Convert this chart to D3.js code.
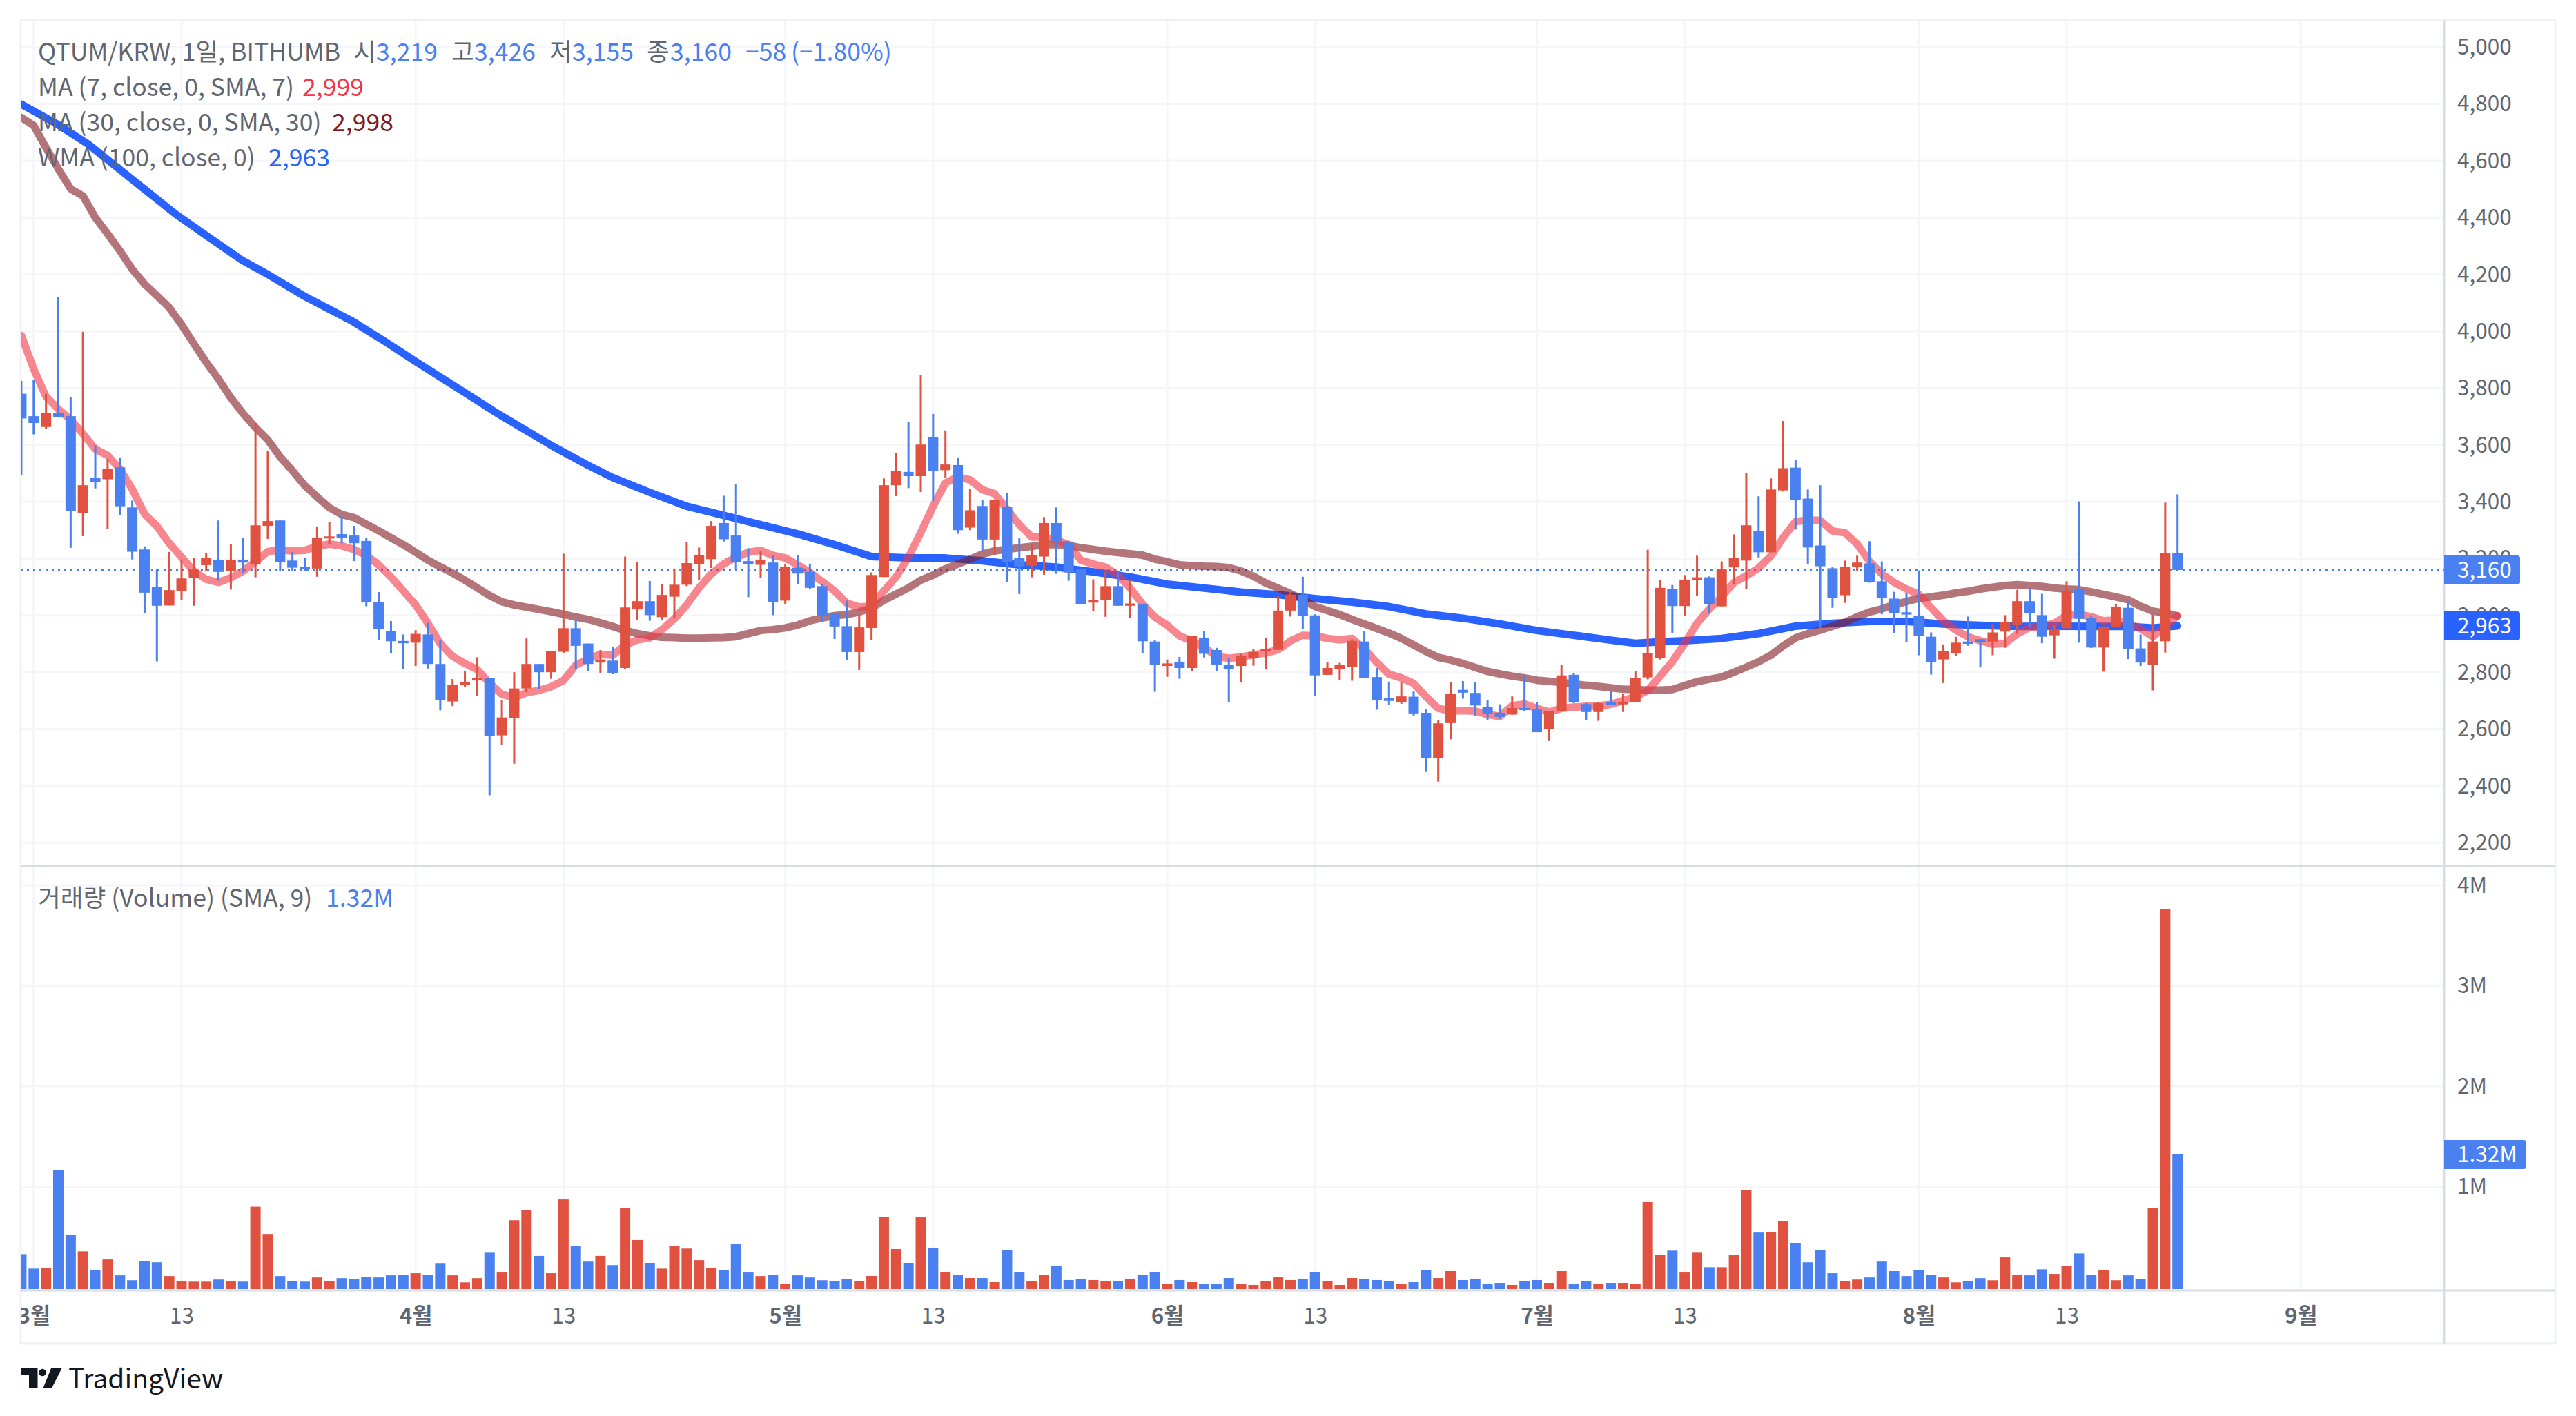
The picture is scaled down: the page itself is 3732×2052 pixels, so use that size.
<!DOCTYPE html>
<html>
<head>
<meta charset="utf-8">
<script src="https://cdn.jsdelivr.net/npm/d3@7/dist/d3.min.js"></script>
<style>
html, body { margin: 0; padding: 0; background: #fff; }
svg { display: block; }
text { font-family: "Noto Sans CJK KR", "Noto Sans", sans-serif; }
</style>
</head>
<body>
<script>
// first bar is one day before 3월 1일, so day number = firstDay + position in the arrays
var firstDay = -1;

var opens = [3780,3701,3663,3713,3701,3359,3485,3479,3521,3380,3232,3099,3035,3087,3131,3177,3195,3155,3195,3179,3315,3334,3193,3172,3165,3271,3286,3281,3262,3047,2945,2910,2904,2933,2829,2697,2756,2771,2780,2578,2639,2743,2829,2800,2872,2955,2901,2834,2841,2815,3021,3050,2994,3066,3108,3181,3198,3325,3281,3191,3178,3186,3052,3168,3153,3103,3007,2962,2871,2956,3135,3458,3505,3490,3628,3511,3529,3309,3385,3267,3383,3201,3175,3207,3325,3256,3162,3045,3055,3103,3034,3041,2908,2822,2837,2815,2922,2878,2826,2822,2849,2873,2879,3017,3073,3000,2791,2810,2818,2908,2783,2708,2696,2714,2657,2498,2621,2738,2727,2679,2657,2651,2674,2669,2601,2663,2791,2688,2660,2696,2687,2695,2782,2851,3092,3033,3125,3134,3032,3169,3193,3297,3222,3440,3520,3411,3246,3166,3071,3170,3183,3120,3059,3011,2999,2925,2845,2868,2908,2916,2908,2943,2967,3050,3001,2930,2955,3094,2991,2887,2958,3027,2884,2827,2909,3219];
var highs = [3825,3830,3780,4120,3767,3998,3599,3550,3556,3404,3243,3162,3223,3193,3201,3219,3334,3252,3274,3677,3578,3334,3223,3201,3313,3329,3349,3315,3272,3082,2980,2933,2948,2974,2913,2776,2804,2853,2780,2702,2800,2919,2829,2874,3217,2983,2901,2878,2890,3207,3188,3121,3111,3165,3258,3239,3332,3421,3463,3237,3225,3211,3182,3211,3182,3110,3007,3052,2999,3151,3482,3572,3680,3845,3709,3651,3556,3446,3405,3407,3431,3271,3251,3346,3380,3260,3162,3127,3154,3156,3125,3041,2914,2845,2854,2927,2944,2886,2851,2865,2883,2922,3068,3083,3136,3004,2837,2833,2916,2946,2815,2767,2767,2732,2669,2631,2764,2769,2764,2703,2687,2715,2791,2696,2662,2825,2798,2691,2696,2733,2723,2803,3231,3124,3107,3142,3210,3137,3190,3285,3502,3419,3482,3684,3547,3443,3458,3170,3193,3210,3261,3190,3083,3079,3158,2940,2898,2925,2996,2916,2969,3001,3090,3095,3076,2967,3120,3401,2997,2961,3041,3051,2933,3002,3397,3426];
var lows = [3493,3637,3656,3699,3238,3279,3447,3303,3352,3197,3007,2838,3035,3053,3034,3156,3122,3091,3148,3134,3269,3155,3156,3156,3136,3252,3254,3191,3032,2912,2866,2810,2822,2813,2666,2681,2747,2718,2367,2543,2478,2730,2742,2777,2866,2812,2804,2796,2793,2812,2985,2981,2985,2990,3103,3125,3167,3260,3162,3064,3133,3001,3040,3111,3093,2977,2917,2844,2808,2914,3135,3420,3448,3434,3403,3485,3287,3300,3225,3213,3118,3075,3134,3143,3146,3122,3039,3014,2995,3034,2992,2867,2731,2784,2777,2803,2852,2803,2696,2765,2823,2810,2879,2996,2952,2716,2791,2772,2770,2781,2668,2686,2689,2648,2449,2415,2564,2707,2647,2632,2636,2651,2664,2589,2558,2663,2691,2633,2629,2684,2660,2695,2775,2845,2938,2998,3068,3006,3032,3110,3094,3204,3222,3436,3302,3182,2956,3027,3044,3157,3115,3004,2938,2905,2860,2792,2762,2858,2893,2817,2860,2886,2935,2956,2902,2848,2955,2904,2885,2802,2958,2846,2822,2736,2869,3155];
var closes = [3693,3677,3713,3699,3367,3458,3469,3515,3384,3224,3080,3034,3089,3130,3161,3201,3153,3195,3186,3317,3332,3189,3168,3165,3274,3278,3274,3254,3048,2951,2909,2902,2935,2829,2701,2756,2766,2780,2576,2641,2743,2829,2800,2874,2955,2893,2829,2845,2797,3028,3050,3001,3072,3108,3184,3211,3315,3268,3188,3181,3194,3047,3172,3147,3097,2999,2961,2871,2958,3142,3458,3509,3490,3601,3509,3531,3300,3370,3267,3407,3188,3173,3211,3325,3257,3151,3039,3054,3103,3034,3042,2909,2826,2831,2815,2927,2865,2826,2810,2857,2871,2881,3017,3073,2997,2789,2815,2825,2910,2781,2701,2699,2715,2655,2498,2620,2723,2728,2683,2655,2643,2674,2667,2589,2662,2789,2696,2660,2691,2685,2696,2781,2866,3097,3033,3126,3134,3040,3162,3202,3317,3222,3443,3518,3407,3239,3173,3062,3171,3186,3118,3062,3009,3003,2928,2836,2874,2904,2900,2905,2940,2976,3050,3008,2925,2953,3087,2988,2887,2961,3030,2882,2834,2908,3219,3160];
var volumes = [0.327,0.183,0.19,1.168,0.52,0.355,0.169,0.274,0.116,0.067,0.26,0.246,0.109,0.06,0.053,0.053,0.074,0.06,0.053,0.8,0.528,0.109,0.06,0.053,0.095,0.06,0.088,0.081,0.102,0.095,0.116,0.123,0.137,0.123,0.232,0.116,0.046,0.088,0.341,0.144,0.665,0.763,0.31,0.137,0.872,0.412,0.253,0.31,0.218,0.788,0.468,0.239,0.183,0.412,0.383,0.267,0.19,0.165,0.426,0.144,0.109,0.123,0.032,0.116,0.095,0.067,0.055,0.076,0.062,0.11,0.7,0.378,0.24,0.7,0.392,0.151,0.117,0.089,0.089,0.048,0.371,0.151,0.055,0.117,0.213,0.069,0.076,0.069,0.062,0.062,0.076,0.117,0.151,0.034,0.069,0.048,0.034,0.034,0.089,0.028,0.021,0.062,0.096,0.069,0.076,0.151,0.055,0.021,0.089,0.076,0.069,0.055,0.034,0.048,0.165,0.089,0.158,0.069,0.076,0.034,0.041,0.021,0.055,0.069,0.041,0.158,0.034,0.055,0.034,0.041,0.041,0.028,0.846,0.32,0.362,0.144,0.341,0.197,0.197,0.317,0.967,0.542,0.549,0.658,0.433,0.246,0.369,0.137,0.06,0.074,0.095,0.253,0.158,0.109,0.165,0.123,0.095,0.046,0.06,0.088,0.067,0.295,0.123,0.116,0.176,0.13,0.211,0.334,0.123,0.165,0.067,0.116,0.081,0.788,3.76,1.32];

// moving averages, one value per bar
var ma7 = [3985,3867,3770,3726,3688,3639,3585,3563,3515,3444,3357,3314,3254,3205,3156,3127,3116,3133,3156,3189,3225,3230,3227,3229,3243,3251,3245,3232,3211,3178,3135,3086,3037,2972,2901,2856,2831,2809,2762,2722,2711,2728,2736,2749,2771,2825,2847,2863,2860,2896,2914,2921,2950,2988,3037,3097,3146,3181,3205,3222,3229,3211,3202,3178,3151,3119,3086,3043,3030,3032,3086,3135,3205,3292,3384,3466,3487,3477,3442,3428,3373,3319,3276,3276,3265,3249,3194,3181,3170,3142,3096,3040,2994,2966,2928,2910,2887,2856,2849,2854,2861,2868,2879,2910,2930,2928,2919,2914,2919,2882,2835,2793,2780,2761,2714,2673,2663,2665,2663,2651,2645,2682,2688,2673,2660,2673,2677,2680,2682,2687,2700,2714,2735,2786,2837,2902,2972,3023,3065,3116,3139,3167,3209,3274,3330,3336,3334,3297,3291,3251,3190,3146,3116,3093,3074,3027,2981,2948,2925,2911,2899,2902,2935,2958,2962,2972,3000,3004,2995,2981,2984,2972,2953,2925,2962,2999];
var ma30 = [4752,4724,4646,4571,4501,4476,4400,4343,4283,4218,4166,4125,4083,4023,3956,3891,3832,3766,3710,3661,3618,3558,3509,3457,3417,3379,3355,3344,3321,3298,3273,3249,3222,3194,3171,3149,3124,3097,3070,3048,3037,3029,3021,3013,3004,2994,2986,2974,2961,2947,2936,2928,2923,2922,2920,2920,2921,2922,2925,2936,2947,2950,2956,2966,2981,2991,2999,3003,3012,3026,3053,3075,3097,3124,3142,3164,3181,3198,3216,3227,3232,3238,3243,3249,3249,3247,3238,3232,3226,3221,3217,3212,3198,3189,3178,3175,3173,3172,3168,3156,3138,3114,3096,3077,3056,3031,3017,3003,2986,2970,2954,2938,2919,2896,2873,2852,2843,2831,2817,2803,2794,2786,2780,2772,2768,2764,2759,2754,2750,2745,2740,2739,2737,2737,2739,2753,2767,2775,2783,2800,2818,2837,2860,2893,2921,2936,2948,2962,2976,2995,3012,3023,3037,3049,3060,3065,3071,3079,3085,3093,3099,3105,3108,3105,3102,3096,3093,3091,3083,3074,3065,3055,3032,3015,3009,2998];
// WMA is a smooth curve, so it is read every few bars: bar number, value
var wmaBars = [-1,1.9,4.4,8,11.5,14.1,16.9,19,21.9,25.8,28.4,31.2,35.1,37.7,42.1,45,47,50,53,56,59,62,65,68,71,74,77,80,83,86,89,92,95,98,101,104,107,110,113,116,119,122,125,128,130,132,134,137,140,143,146,149,152,155,158,161,164,167,170,172,174];
var wmaValues = [4799,4729,4659,4534,4413,4334,4250,4200,4125,4037,3967,3888,3781,3709,3596,3528,3485,3433,3384,3352,3319,3287,3249,3207,3202,3202,3192,3178,3170,3153,3135,3110,3096,3082,3073,3059,3047,3031,3005,2990,2970,2947,2930,2913,2902,2907,2911,2919,2936,2962,2972,2979,2979,2970,2965,2961,2962,2961,2961,2956,2963];

var priceTicks = [2200,2400,2600,2800,3000,3200,3400,3600,3800,4000,4200,4400,4600,4800,5000];
var volumeTicks = [1,2,3,4];
var dayTicks = [0,12,31,43,61,73,92,104,122,134,153,165,184];
var dayLabels = ['3월','13','4월','13','5월','13','6월','13','7월','13','8월','13','9월'];

var width = 3732, height = 2052;
var plotLeft = 30, axisX = 3541, rightEdge = 3702;
var plotTop = 29.5, paneLine = 1255, volBase = 1870, plotBottom = 1947;

var red = '#e05140', blue = '#4a80ef', wmaBlue = '#2962ff', grey = '#5f6670', gridColor = '#f5f6f9', axisColor = '#d9dde3';

var x = d3.scaleLinear().domain([0, 184]).range([48.8, 48.8 + 184 * 17.85]);
var y = d3.scaleLinear().domain([2118, 5094]).range([paneLine, plotTop]);
var yVol = d3.scaleLinear().domain([0, 4]).range([1865, 1283]);

var svg = d3.select('body').append('svg').attr('width', width).attr('height', height);
svg.append('rect').attr('width', width).attr('height', height).attr('fill', '#fff');

var defs = svg.append('defs');
defs.append('clipPath').attr('id', 'plot').append('rect')
    .attr('x', plotLeft).attr('y', plotTop).attr('width', axisX - plotLeft).attr('height', volBase - plotTop);
defs.append('clipPath').attr('id', 'timeAxis').append('rect')
    .attr('x', plotLeft).attr('y', volBase).attr('width', axisX - plotLeft).attr('height', plotBottom - volBase);

// grid
var grid = svg.append('g').attr('stroke', gridColor).attr('stroke-width', 3);
grid.selectAll('.gx').data(dayTicks).enter().append('line')
    .attr('x1', function(d) { return x(d); }).attr('x2', function(d) { return x(d); })
    .attr('y1', plotTop).attr('y2', volBase);
grid.selectAll('.gy').data(priceTicks).enter().append('line')
    .attr('x1', plotLeft).attr('x2', axisX)
    .attr('y1', function(d) { return y(d); }).attr('y2', function(d) { return y(d); });
grid.selectAll('.gv').data(volumeTicks).enter().append('line')
    .attr('x1', plotLeft).attr('x2', axisX)
    .attr('y1', function(d) { return yVol(d); }).attr('y2', function(d) { return yVol(d); });

// frame
var frame = svg.append('g');
frame.append('path').attr('fill', 'none').attr('stroke', '#f0f1f5').attr('stroke-width', 3)
    .attr('d', 'M' + plotLeft + ',' + plotBottom + 'V' + plotTop + 'H' + rightEdge + 'V' + plotBottom + 'H' + plotLeft);
frame.append('line').attr('x1', plotLeft).attr('x2', rightEdge).attr('y1', paneLine).attr('y2', paneLine)
    .attr('stroke', axisColor).attr('stroke-width', 3);
frame.append('line').attr('x1', plotLeft).attr('x2', rightEdge).attr('y1', volBase).attr('y2', volBase)
    .attr('stroke', axisColor).attr('stroke-width', 3);
frame.append('line').attr('x1', axisX).attr('x2', axisX).attr('y1', plotTop).attr('y2', plotBottom)
    .attr('stroke', axisColor).attr('stroke-width', 3);

var plot = svg.append('g').attr('clip-path', 'url(#plot)');

// last price line
plot.append('line').attr('x1', plotLeft).attr('x2', axisX)
    .attr('y1', y(3160)).attr('y2', y(3160))
    .attr('stroke', blue).attr('stroke-width', 3).attr('stroke-dasharray', '3 6');

// moving averages
function drawLine(bars, values, color, opacity) {
    var line = d3.line()
        .x(function(d, i) { return x(bars[i]); })
        .y(function(d) { return y(d); });
    plot.append('path')
        .attr('d', line(values))
        .attr('fill', 'none')
        .attr('stroke', color)
        .attr('stroke-opacity', opacity)
        .attr('stroke-width', 11)
        .attr('stroke-linejoin', 'round')
        .attr('stroke-linecap', 'round');
}
var allBars = closes.map(function(d, i) { return i + firstDay; });
drawLine(wmaBars, wmaValues, wmaBlue, 1);
drawLine(allBars, ma30, '#801922', 0.6);
drawLine(allBars, ma7, '#f23645', 0.6);

// candles
var candles = plot.selectAll('.candle').data(closes).enter().append('g').attr('class', 'candle')
    .attr('fill', function(d, i) { return d >= opens[i] ? red : blue; });
candles.append('rect')
    .attr('x', function(d, i) { return x(allBars[i]) - 1.5; })
    .attr('width', 3)
    .attr('y', function(d, i) { return y(highs[i]); })
    .attr('height', function(d, i) { return y(lows[i]) - y(highs[i]); });
candles.append('rect')
    .attr('x', function(d, i) { return x(allBars[i]) - 7.5; })
    .attr('width', 15)
    .attr('y', function(d, i) { return y(Math.max(opens[i], d)); })
    .attr('height', function(d, i) { return Math.max(3, Math.abs(y(opens[i]) - y(d))); });

// volume
plot.selectAll('.vol').data(volumes).enter().append('rect').attr('class', 'vol')
    .attr('x', function(d, i) { return x(allBars[i]) - 7.5; })
    .attr('width', 15)
    .attr('y', function(d) { return yVol(d); })
    .attr('height', function(d) { return 1868 - yVol(d); })
    .attr('fill', function(d, i) { return closes[i] >= opens[i] ? red : blue; });

// axes
function styleAxis(g) {
    g.select('.domain').remove();
    g.selectAll('.tick line').remove();
    g.selectAll('text').attr('fill', grey).attr('font-size', 31.5);
}
svg.append('g').attr('transform', 'translate(' + (axisX - 1) + ',0)')
    .call(d3.axisRight(y).tickValues(priceTicks).tickFormat(d3.format(',')).tickSize(0).tickPadding(20))
    .call(styleAxis)
    .selectAll('text').attr('dy', '0.33em');
svg.append('g').attr('transform', 'translate(' + (axisX - 1) + ',0)')
    .call(d3.axisRight(yVol).tickValues(volumeTicks).tickFormat(function(d) { return d + 'M'; }).tickSize(0).tickPadding(20))
    .call(styleAxis)
    .selectAll('text').attr('dy', '0.33em');

var timeAxis = svg.append('g').attr('clip-path', 'url(#timeAxis)')
    .append('g').attr('transform', 'translate(0,' + volBase + ')')
    .call(d3.axisBottom(x).tickValues(dayTicks).tickFormat(function(d, i) { return dayLabels[i]; }).tickSize(0).tickPadding(0))
    .call(styleAxis);
timeAxis.selectAll('text')
    .attr('dy', null).attr('y', 48)
    .attr('font-weight', function(d, i) { return dayLabels[i] == '13' ? 400 : 700; });

// price tags on the axis
function tag(value, scale, label, color, w) {
    var cy = scale(value);
    svg.append('path')
        .attr('d', 'M' + axisX + ',' + (cy - 21) + 'H' + (axisX + w - 4) + 'q4,0 4,4V' + (cy + 17) + 'q0,4 -4,4H' + axisX + 'Z')
        .attr('fill', color);
    svg.append('text').attr('x', axisX + 19).attr('y', cy).attr('dy', '0.36em')
        .attr('fill', '#fff').attr('font-size', 31.5).text(label);
}
tag(3160, y, '3,160', blue, 110);
tag(2963, y, '2,963', wmaBlue, 110);
tag(1.32, yVol, '1.32M', blue, 119);

// legend
function legendText(px, py, label, color) {
    svg.append('text').attr('x', px).attr('y', py).attr('dy', '0.36em')
        .attr('fill', color).attr('font-size', 35.6).text(label);
}
legendText(55, 75, 'QTUM/KRW, 1일, BITHUMB', grey);
legendText(512, 75, '시', grey);
legendText(545, 75, '3,219', blue);
legendText(654, 75, '고', grey);
legendText(687, 75, '3,426', blue);
legendText(796, 75, '저', grey);
legendText(829, 75, '3,155', blue);
legendText(937, 75, '종', grey);
legendText(971, 75, '3,160', blue);
legendText(1080, 75, '−58', blue);
legendText(1146, 75, '(−1.80%)', blue);
legendText(55, 126, 'MA (7, close, 0, SMA, 7)', grey);
legendText(438, 126, '2,999', '#f23645');
legendText(55, 177, 'MA (30, close, 0, SMA, 30)', grey);
legendText(481, 177, '2,998', '#801922');
legendText(55, 228, 'WMA (100, close, 0)', grey);
legendText(389, 228, '2,963', wmaBlue);
legendText(55, 1301, '거래량 (Volume) (SMA, 9)', grey);
legendText(472, 1301, '1.32M', blue);

// logo
var logo = svg.append('g').attr('transform', 'translate(30,1983)').attr('fill', '#131722');
logo.append('path').attr('d', 'M0,0H24.5V28.5H12V10H0Z');
logo.append('circle').attr('cx', 31.5).attr('cy', 6).attr('r', 5.2);
logo.append('path').attr('d', 'M44,0H59.5L45,28.5H32.5Z');
svg.append('text').attr('x', 99).attr('y', 2012).attr('fill', '#131722').attr('font-size', 39).text('TradingView');
</script>
</body>
</html>
